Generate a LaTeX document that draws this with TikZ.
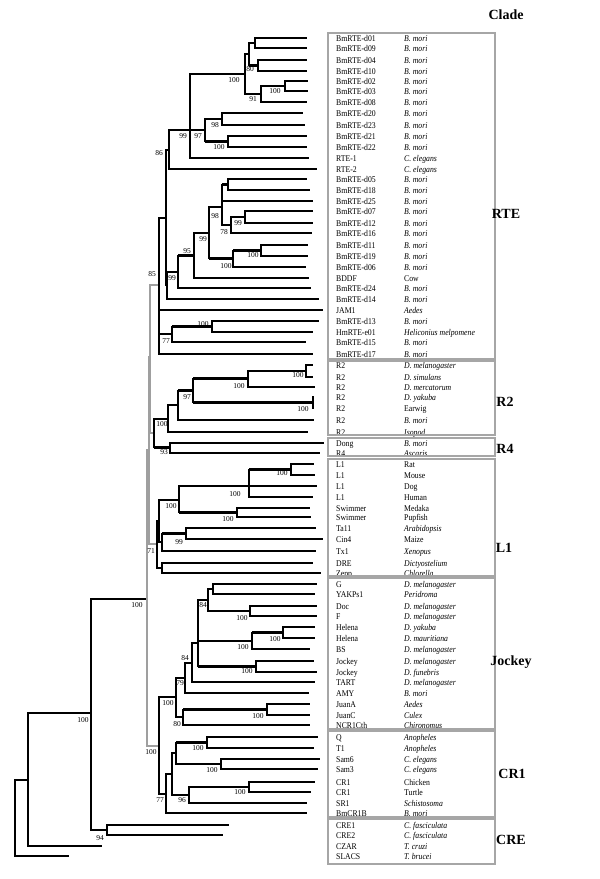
\documentclass[tikz,border=0pt]{standalone}
\usepackage{fontspec}
\setmainfont{Liberation Serif}
\newfontfamily\lblfont{Liberation Serif}[FakeStretch=0.88]
\begin{document}
\begin{tikzpicture}[x=1pt,y=-1pt,
 hl/.style={line width=2.8pt, line cap=butt},
 vl/.style={line width=1.7pt, line cap=rect},
 deep/.style={line width=1.5pt, line cap=rect, line join=miter},
 grl/.style={line width=1.5pt, line cap=rect, draw=gray!75},
 bsl/.style={font=\fontsize{7.5}{8}\selectfont, inner sep=0pt},
 nml/.style={font=\lblfont\fontsize{8.8}{10}\selectfont, anchor=west, inner sep=0pt, text height=6pt, text depth=0pt},
 cladebox/.style={draw=gray!70, line width=1.1pt},
 cladel/.style={font=\fontsize{14}{16}\selectfont\bfseries, inner sep=0pt}]
\useasboundingbox (0,0) rectangle (600,879);
% internal nodes
\foreach \id/\x/\y in {R/15/818,A/28/780,B/91/713,Cn/147/599,E/149/450,n85/150/357,
 RTE/159/285,A1/166/218,Z/167/285.5,n86/169/150,n99/190/130,n100a/245/74,n80/249/54,
 na/255/43,nb/258/65.5,n91/261/94,nc/285/86,n97/205/130,n98/222/119,nd/228/141.5,
 n99c/178/272,n95/194/255.5,n99b/209/233,n98b/222/207,ne/228/184.5,n78/231/225,
 ng/245/217,n100b/233/258.5,nh/261/250.5,n77/172/334,nhm/212/326.5,
 nrr/154/433,n100r/168/419,nr4/178/405,n97r/193/390.5,nr2/248/378.5,nr1/306/371,
 nr3/313/402.5,n93/170/447.5,
 L1n/157/544,nz/159/521,n100L/179/500,n249/249/486,nrm/291/469.5,nmp/237/512.5,
 ny/162/542,nta/186/533.5,ndz/162/568,
 Dn/159/746,nJ/176/697,n79/185/678,n84/192/663,nj1/198/643,n84b/208/600,ngy/213/589,
 ndf/250/611,nhb/252/641,nhel/283/632.5,njj/256/666.5,n80j/183/717,nja/267/709.5,
 nCR/166/794,nx/172/774,nqs/176/753,nqt/207/742.5,nss/221/764,n96/189/795,nct/249/787,
 ncre/107/830}
 \coordinate (\id) at (\x,\y);
% leaves: id/y/tip/name/species
\foreach \id/\y/\tx/\nm/\sp in {
 d01/38/307/BmRTE-d01/\textit{B. mori}, d09/48/307/BmRTE-d09/\textit{B. mori},
 d04/60/307/BmRTE-d04/\textit{B. mori}, d10/71/307/BmRTE-d10/\textit{B. mori},
 d02/81/308/BmRTE-d02/\textit{B. mori}, d03/91/308/BmRTE-d03/\textit{B. mori},
 d08/102/307/BmRTE-d08/\textit{B. mori}, d20/113/303/BmRTE-d20/\textit{B. mori},
 d23/125/305/BmRTE-d23/\textit{B. mori}, d21/136/307/BmRTE-d21/\textit{B. mori},
 d22/147/307/BmRTE-d22/\textit{B. mori}, RTE1/158/309/RTE-1/\textit{C. elegans},
 RTE2/169/317/RTE-2/\textit{C. elegans}, d05/179/307/BmRTE-d05/\textit{B. mori},
 d18/190/310/BmRTE-d18/\textit{B. mori}, d25/201/313/BmRTE-d25/\textit{B. mori},
 d07/211/313/BmRTE-d07/\textit{B. mori}, d12/223/313/BmRTE-d12/\textit{B. mori},
 d16/233/312/BmRTE-d16/\textit{B. mori}, d11/245/308/BmRTE-d11/\textit{B. mori},
 d19/256/308/BmRTE-d19/\textit{B. mori}, d06/267/306/BmRTE-d06/\textit{B. mori},
 BDDF/278/309/BDDF/Cow, d24/288/311/BmRTE-d24/\textit{B. mori},
 d14/299/319/BmRTE-d14/\textit{B. mori}, JAM1/310/323/JAM1/\textit{Aedes},
 d13/321/319/BmRTE-d13/\textit{B. mori}, HmRTE/332/313/HmRTE-e01/\textit{Heliconius melpomene},
 d15/342/306/BmRTE-d15/\textit{B. mori}, d17/354/313/BmRTE-d17/\textit{B. mori},
 Dmel/365/313/R2/\textit{D. melanogaster}, Dsim/377/313/R2/\textit{D. simulans},
 Dmerc/387/315/R2/\textit{D. mercatorum}, Dyak/397/314/R2/\textit{D. yakuba},
 Earwig/408/313/R2/Earwig, R2Bm/420/314/R2/\textit{B. mori}, Iso/432/308/R2/\textit{Isopod},
 Dong/443/324/Dong/\textit{B. mori}, R4/453/320/R4/\textit{Ascaris},
 Rat/464/314/L1/Rat, Mouse/475/315/L1/Mouse, Dog/486/317/L1/Dog, Human/497/313/L1/Human,
 Medaka/508/310/Swimmer/Medaka, Pupfish/517/311/Swimmer/Pupfish,
 Ta11/528/316/Ta11/\textit{Arabidopsis}, Cin4/539/323/Cin4/Maize,
 Tx1/551/316/Tx1/\textit{Xenopus}, DRE/563/313/DRE/\textit{Dictyostelium},
 Zepp/573/321/Zepp/\textit{Chlorella},
 G/584/317/G/\textit{D. melanogaster}, YAK/594/315/YAKPs1/\textit{Peridroma},
 Doc/606/317/Doc/\textit{D. melanogaster}, F/616/317/F/\textit{D. melanogaster},
 Hyak/627/315/Helena/\textit{D. yakuba}, Hmau/638/315/Helena/\textit{D. mauritiana},
 BS/649/310/BS/\textit{D. melanogaster}, Jmel/661/314/Jockey/\textit{D. melanogaster},
 Jfun/672/317/Jockey/\textit{D. funebris}, TART/682/315/TART/\textit{D. melanogaster},
 AMY/693/309/AMY/\textit{B. mori}, JuanA/704/310/JuanA/\textit{Aedes},
 JuanC/715/310/JuanC/\textit{Culex}, NCR/725/310/NCR1Cth/\textit{Chironomus},
 Q/737/318/Q/\textit{Anopheles}, T1/748/314/T1/\textit{Anopheles},
 Sam6/759/320/Sam6/\textit{C. elegans}, Sam3/769/318/Sam3/\textit{C. elegans},
 Chick/782/315/CR1/Chicken, Turtle/792/311/CR1/Turtle,
 SR1/803/307/SR1/\textit{Schistosoma}, BmCR/813/307/BmCR1B/\textit{B. mori},
 CRE1/825/229/CRE1/\textit{C. fasciculata}, CRE2/835/223/CRE2/\textit{C. fasciculata},
 CZAR/846/101/CZAR/\textit{T. cruzi}, SLACS/856/68/SLACS/\textit{T. brucei}}
{
 \coordinate (\id) at (\tx,\y);
 \node[nml] (t\id) at (336,\y) {\nm};
 \node[nml] (s\id) at (404,\y) {\sp};
}
% deep edges
\foreach \p/\c in {R/A,R/SLACS,A/B,A/CZAR,B/Cn,B/ncre}
 \draw[deep] (\p) |- (\c);
\foreach \p/\c in {Cn/E,Cn/Dn,E/n85,E/L1n,n85/RTE,n85/nrr}
 \draw[grl] (\p) |- (\c);
% edges: thin vertical, thick horizontal
\foreach \p/\c in {ncre/CRE1,ncre/CRE2,
 RTE/A1,RTE/JAM1,RTE/n77,RTE/d17,A1/n86,A1/Z,Z/n99c,Z/d14,n86/n99,n86/RTE2,
 n99/n100a,n99/n97,n99/RTE1,n100a/n80,n100a/n91,n80/na,n80/nb,
 na/d01,na/d09,nb/d04,nb/d10,n91/nc,n91/d08,nc/d02,nc/d03,
 n97/n98,n97/nd,n98/d20,n98/d23,nd/d21,nd/d22,n99c/n95,n99c/d24,
 n95/n99b,n95/BDDF,n99b/n98b,n99b/n100b,n98b/ne,n98b/d25,n98b/n78,
 ne/d05,ne/d18,n78/ng,n78/d16,ng/d07,ng/d12,n100b/nh,n100b/d06,nh/d11,nh/d19,
 n77/nhm,n77/d15,nhm/d13,nhm/HmRTE,
 nrr/n100r,nrr/n93,n100r/nr4,n100r/Iso,nr4/n97r,nr4/R2Bm,n97r/nr2,n97r/nr3,
 nr2/nr1,nr2/Dmerc,nr1/Dmel,nr1/Dsim,nr3/Dyak,nr3/Earwig,n93/Dong,n93/R4,
 L1n/nz,L1n/ndz,nz/n100L,nz/ny,n100L/n249,n100L/nmp,n249/nrm,n249/Dog,n249/Human,
 nrm/Rat,nrm/Mouse,nmp/Medaka,nmp/Pupfish,ny/nta,ny/Tx1,nta/Ta11,nta/Cin4,
 ndz/DRE,ndz/Zepp,
 Dn/nJ,Dn/nCR,nJ/n79,nJ/n80j,n79/n84,n79/AMY,n84/nj1,n84/TART,
 nj1/n84b,nj1/nhb,nj1/njj,n84b/ngy,n84b/ndf,ngy/G,ngy/YAK,ndf/Doc,ndf/F,
 nhb/nhel,nhb/BS,nhel/Hyak,nhel/Hmau,njj/Jmel,njj/Jfun,
 n80j/nja,n80j/NCR,nja/JuanA,nja/JuanC,
 nCR/nx,nCR/BmCR,nx/nqs,nx/n96,nqs/nqt,nqs/nss,nqt/Q,nqt/T1,nss/Sam6,nss/Sam3,
 n96/nct,n96/SR1,nct/Chick,nct/Turtle}
 {\draw[vl] (\p) -- (\p |- \c);
  \draw[hl] (\p |- \c) -- (\c);}
% bootstrap values
\foreach \x/\y/\t [count=\i] in {234/80/100,250/69/80,275/91/100,253/99/91,215/125/98,
 183/136/99,198/136/97,219/147/100,159/153/86,215/216/98,238/223/99,224/232/78,
 203/239/99,187/251/95,253/255/100,226/266/100,152/274/85,172/278/99,203/324/100,
 166/341/77,298/375/100,239/386/100,303/409/100,187/397/97,162/424/100,164/452/93,
 282/473/100,235/494/100,171/506/100,228/519/100,179/542/99,151/551/71,137/605/100,
 203/605/84,242/618/100,275/639/100,243/647/100,247/671/100,185/658/84,180/683/79,
 168/703/100,177/724/80,258/716/100,151/752/100,198/748/100,212/770/100,240/792/100,
 182/800/96,160/800/77,83/720/100,100/838/94}
 \node[bsl] (bs\i) at (\x,\y) {\t};
% clade boxes
\draw[cladebox] (328,33) rectangle (495,359);
\draw[cladebox] (328,361) rectangle (495,435);
\draw[cladebox] (328,438) rectangle (495,456);
\draw[cladebox] (328,459) rectangle (495,576);
\draw[cladebox] (328,578) rectangle (495,729);
\draw[cladebox] (328,731) rectangle (495,817);
\draw[cladebox] (328,819) rectangle (495,864);
% clade names
\node[cladel] (hdr) at (506,15) {Clade};
\node[cladel] (cRTE) at (506,214) {RTE};
\node[cladel] (cR2) at (505,402) {R2};
\node[cladel] (cR4) at (505,449) {R4};
\node[cladel] (cL1) at (504,548) {L1};
\node[cladel] (cJ) at (511,662) {Jockey};
\node[cladel] (cCR1) at (512,774) {CR1};
\node[cladel] (cCRE) at (511,840) {CRE};
\end{tikzpicture}
\end{document}
